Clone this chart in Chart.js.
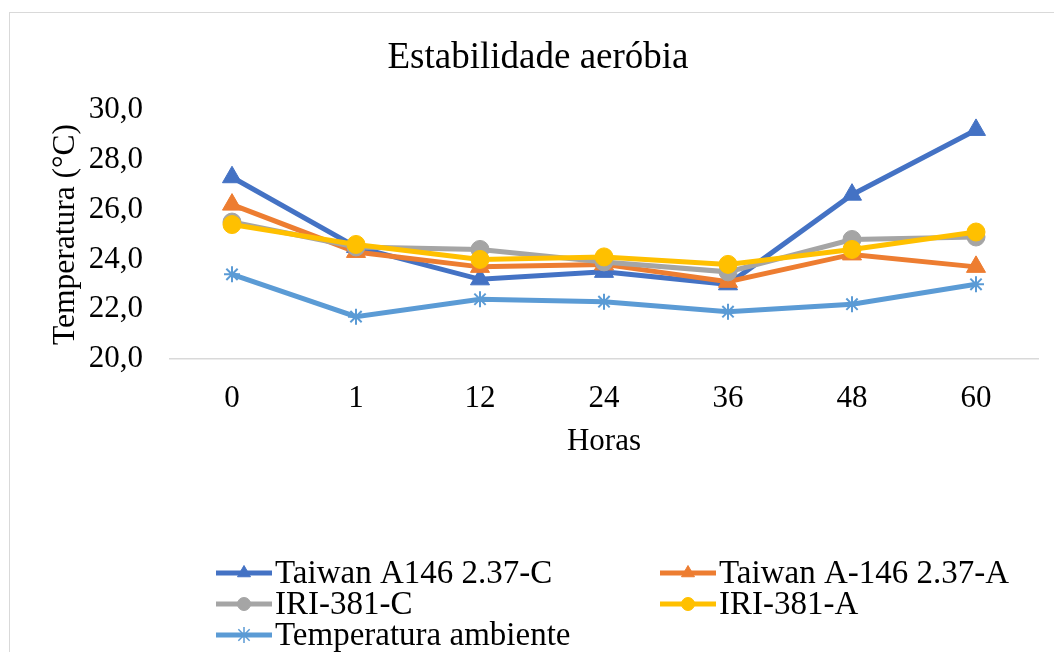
<!DOCTYPE html>
<html>
<head>
<meta charset="utf-8">
<script src="https://cdn.jsdelivr.net/npm/chart.js@4.4.1/dist/chart.umd.min.js"></script>
<style>
  html, body { margin: 0; padding: 0; background: #fff; }
  #wrap { width: 1054px; height: 652px; position: relative; }
</style>
</head>
<body>
<div id="wrap"><canvas id="chart" width="1054" height="652"></canvas></div>
<script>
// data
const horas = ["0", "1", "12", "24", "36", "48", "60"];
const taiwanC = [27.3, 24.5, 23.2, 23.5, 23.0, 26.6, 29.2];
const taiwanA = [26.2, 24.3, 23.7, 23.8, 23.1, 24.2, 23.7];
const iriC = [25.5, 24.5, 24.4, 23.9, 23.5, 24.8, 24.9];
const iriA = [25.4, 24.6, 24.0, 24.1, 23.8, 24.4, 25.1];
const ambiente = [23.4, 21.7, 22.4, 22.3, 21.9, 22.2, 23.0];
const yTicks = [20, 22, 24, 26, 28, 30];
const seriesNames = [
  "Taiwan A146 2.37-C",
  "Taiwan A-146 2.37-A",
  "IRI-381-C",
  "IRI-381-A",
  "Temperatura ambiente",
];

const SERIF = "'Liberation Serif', 'Times New Roman', serif";
const colors = ["#4472C4", "#ED7D31", "#A5A5A5", "#FFC000", "#5B9BD5"];
const styles = ["triangle", "triangle", "circle", "circle", "star"];

const makeSet = (i, data) => ({
  label: seriesNames[i],
  data: data,
  borderColor: colors[i],
  backgroundColor: colors[i],
  borderWidth: 5,
  pointStyle: styles[i],
  pointRadius: styles[i] === "triangle" ? 11 : styles[i] === "star" ? 8 : 9,
  pointBorderWidth: styles[i] === "star" ? 2 : 1,
  pointBorderColor: colors[i],
  pointBackgroundColor: colors[i],
  tension: 0,
  order: 5 - i, // later series on top, like the original
});

// frame, title and the two-column legend
const decorations = {
  id: "decorations",
  beforeDraw(chart) {
    const ctx = chart.ctx;
    ctx.save();
    ctx.fillStyle = "#fff";
    ctx.fillRect(0, 0, chart.width, chart.height);
    ctx.strokeStyle = "#D9D9D9";
    ctx.lineWidth = 1;
    ctx.strokeRect(9.5, 12.5, 1200, 800);
    ctx.restore();
  },
  afterDraw(chart) {
    const ctx = chart.ctx;
    ctx.save();
    ctx.fillStyle = "#000";
    ctx.font = "37px " + SERIF;
    ctx.textAlign = "center";
    ctx.textBaseline = "middle";
    ctx.fillText("Estabilidade aeróbia", 538, 58);

    const spots = [
      [216, 573], [660, 573],
      [216, 604], [660, 604],
      [216, 635],
    ];
    ctx.font = "33px " + SERIF;
    ctx.textAlign = "left";
    chart.data.datasets.forEach((ds, i) => {
      const [x, y] = spots[i];
      ctx.strokeStyle = colors[i];
      ctx.lineWidth = 5;
      ctx.beginPath();
      ctx.moveTo(x, y);
      ctx.lineTo(x + 56, y);
      ctx.stroke();
      ctx.fillStyle = colors[i];
      ctx.lineWidth = styles[i] === "star" ? 1.5 : 1;
      Chart.helpers.drawPoint(ctx, {
        pointStyle: styles[i],
        radius: styles[i] === "star" ? 8 : styles[i] === "triangle" ? 7.5 : 6.5,
        borderWidth: ctx.lineWidth,
      }, x + 28, y);
      ctx.fillStyle = "#000";
      ctx.fillText(ds.label, x + 59, y + 1);
    });
    ctx.restore();
  },
};

new Chart(document.getElementById("chart"), {
  type: "line",
  data: {
    labels: horas,
    datasets: [
      makeSet(0, taiwanC),
      makeSet(1, taiwanA),
      makeSet(2, iriC),
      makeSet(3, iriA),
      makeSet(4, ambiente),
    ],
  },
  plugins: [decorations],
  options: {
    responsive: false,
    animation: false,
    devicePixelRatio: 1,
    layout: { padding: { left: 0, right: 16, top: 110, bottom: 192 } },
    plugins: {
      legend: { display: false },
      title: { display: false },
      tooltip: { enabled: false },
    },
    scales: {
      x: {
        offset: true,
        grid: { display: false, drawTicks: false, offset: true },
        border: { display: true, color: "#D9D9D9", width: 1.5 },
        ticks: { color: "#000", padding: 21, font: { family: SERIF, size: 31 } },
        title: {
          display: true,
          text: "Horas",
          color: "#000",
          font: { family: SERIF, size: 31 },
          padding: { top: 0, bottom: 0 },
        },
        afterFit(scale) { scale.height = 101; },
      },
      y: {
        min: 20,
        max: 30,
        grid: { display: false, drawTicks: false },
        border: { display: false },
        afterBuildTicks(scale) { scale.ticks = yTicks.map((v) => ({ value: v })); },
        ticks: {
          color: "#000",
          padding: 27,
          font: { family: SERIF, size: 31 },
          callback: (v) => Number(v).toFixed(1).replace(".", ","),
        },
        title: {
          display: true,
          text: "Temperatura (°C)",
          color: "#000",
          font: { family: SERIF, size: 31.5 },
          padding: { top: 47, bottom: 0 },
        },
        afterFit(scale) { scale.width = 170; },
      },
    },
  },
});
</script>
</body>
</html>
